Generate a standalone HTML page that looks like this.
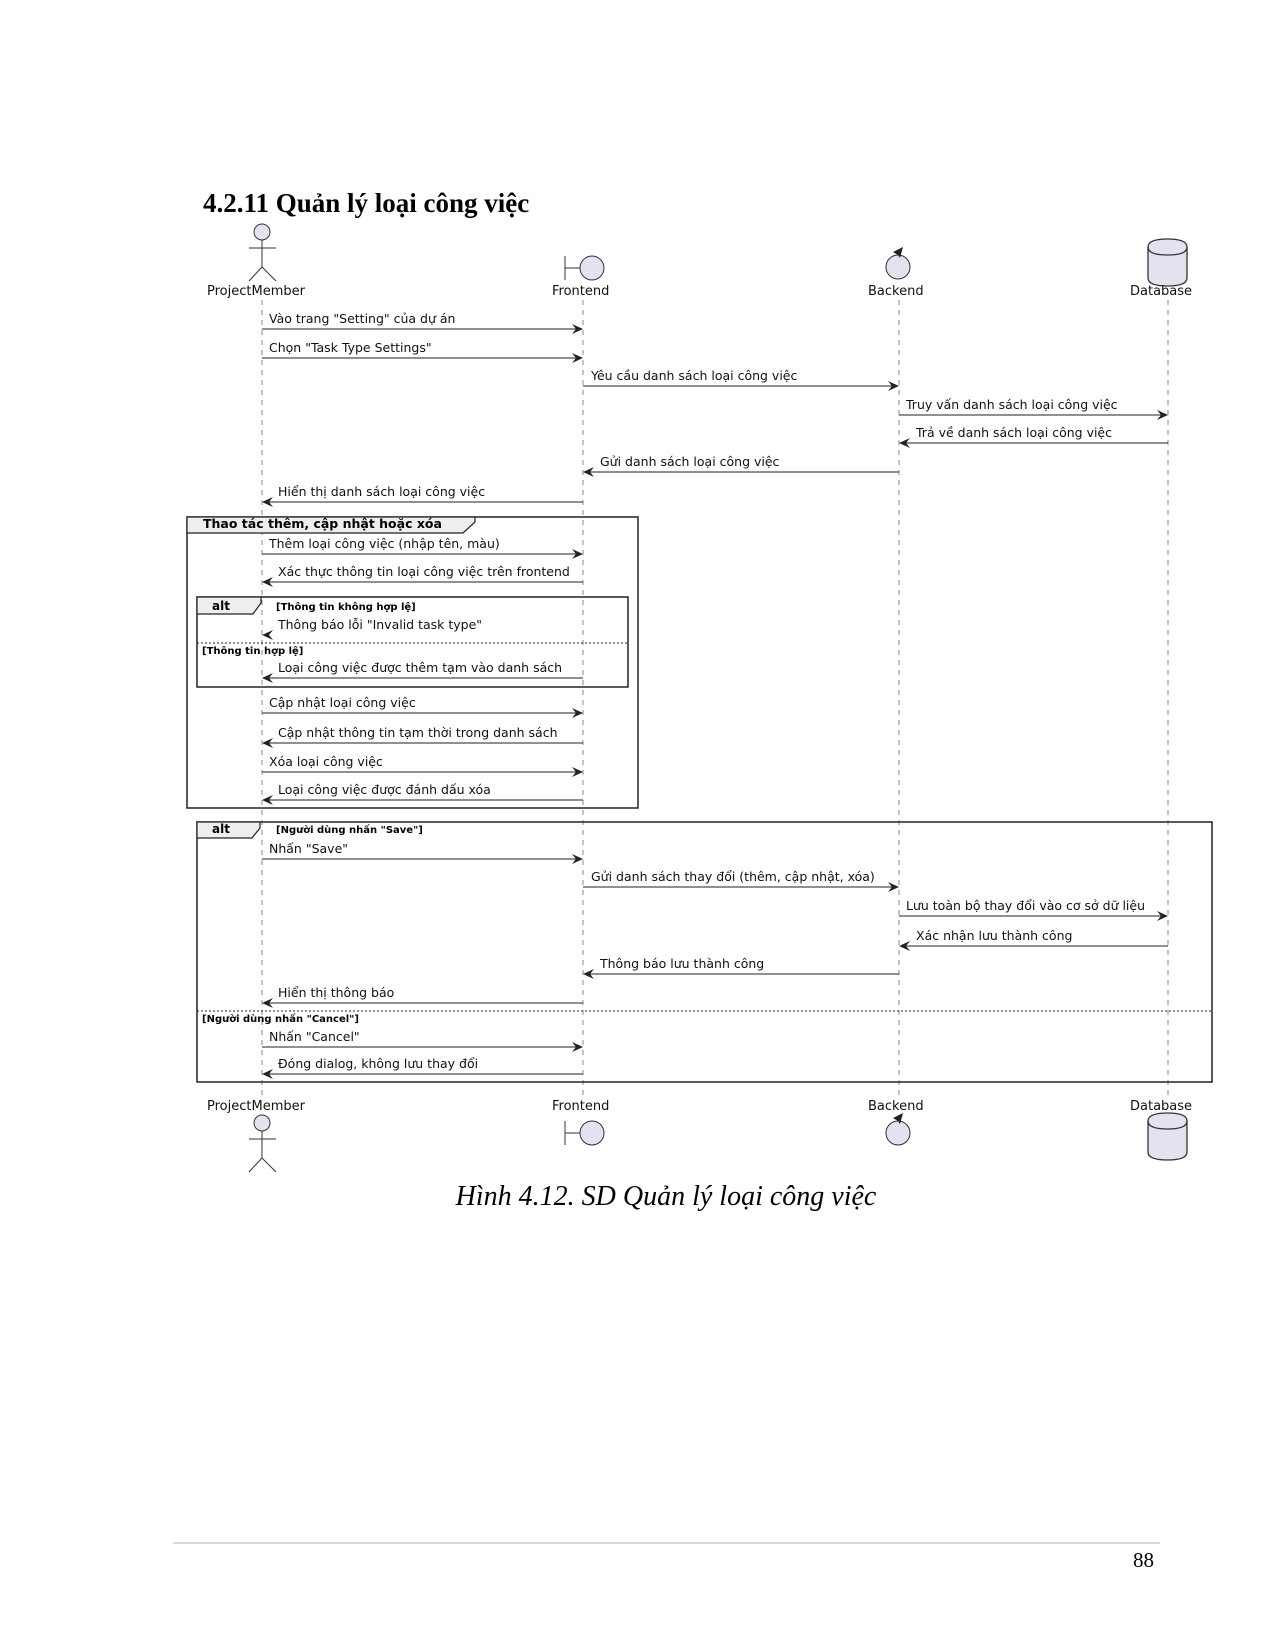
<!DOCTYPE html>
<html><head><meta charset="utf-8"><style>
html,body{margin:0;padding:0;background:#fff;}
svg{display:block;}
.m{font-family:"DejaVu Sans","Liberation Sans",sans-serif;font-size:12.5px;fill:#111;}
.n{font-family:"DejaVu Sans","Liberation Sans",sans-serif;font-size:13px;fill:#111;}
.b{font-family:"DejaVu Sans","Liberation Sans",sans-serif;font-weight:bold;fill:#000;}
.ll{stroke:#888;stroke-width:1;stroke-dasharray:5,5;}
.ar{stroke:#222;stroke-width:1.1;fill:none;}
.h{fill:#222;}
</style></head><body>
<svg width="1275" height="1650" viewBox="0 0 1275 1650" xmlns="http://www.w3.org/2000/svg">
<text x="203" y="212" font-family="Liberation Serif,serif" font-weight="bold" font-size="27" fill="#000">4.2.11 Quản lý loại công việc</text>

<line class="ll" x1="262" y1="300" x2="262" y2="1097"/>
<line class="ll" x1="583" y1="300" x2="583" y2="1097"/>
<line class="ll" x1="899" y1="300" x2="899" y2="1097"/>
<line class="ll" x1="1168" y1="300" x2="1168" y2="1097"/>

<g stroke="#333" stroke-width="1" fill="#e2e2f0">
<circle cx="262" cy="232" r="8"/>
<line x1="262" y1="240" x2="262" y2="267"/>
<line x1="249" y1="248" x2="276" y2="248"/>
<line x1="262" y1="267" x2="249" y2="281" fill="none"/>
<line x1="262" y1="267" x2="276" y2="281" fill="none"/>
<line x1="565" y1="256" x2="565" y2="280"/>
<line x1="565" y1="268" x2="580" y2="268"/>
<circle cx="592" cy="268" r="12"/>
<circle cx="898" cy="267" r="12"/>
<path d="M1148 247 Q1148 239 1167.5 239 Q1187 239 1187 247 L1187 278 Q1187 286 1167.5 286 Q1148 286 1148 278 Z" stroke-width="1.3"/>
<path d="M1148 247 Q1148 255 1167.5 255 Q1187 255 1187 247" fill="none" stroke-width="1.3"/>
</g>
<path d="M898 255 L893 252 L903 247 L900 258 Z" fill="#222"/>
<text class="n" x="207" y="295">ProjectMember</text>
<text class="n" x="552" y="295">Frontend</text>
<text class="n" x="868" y="295">Backend</text>
<text class="n" x="1130" y="295">Database</text>

<text class="n" x="207" y="1110">ProjectMember</text>
<text class="n" x="552" y="1110">Frontend</text>
<text class="n" x="868" y="1110">Backend</text>
<text class="n" x="1130" y="1110">Database</text>
<g stroke="#333" stroke-width="1" fill="#e2e2f0">
<circle cx="262" cy="1123" r="8"/>
<line x1="262" y1="1131" x2="262" y2="1158"/>
<line x1="249" y1="1139" x2="276" y2="1139"/>
<line x1="262" y1="1158" x2="249" y2="1172"/>
<line x1="262" y1="1158" x2="276" y2="1172"/>
<line x1="565" y1="1121" x2="565" y2="1145"/>
<line x1="565" y1="1133" x2="580" y2="1133"/>
<circle cx="592" cy="1133" r="12"/>
<circle cx="898" cy="1133" r="12"/>
<path d="M1148 1121 Q1148 1113 1167.5 1113 Q1187 1113 1187 1121 L1187 1152 Q1187 1160 1167.5 1160 Q1148 1160 1148 1152 Z" stroke-width="1.3"/>
<path d="M1148 1121 Q1148 1129 1167.5 1129 Q1187 1129 1187 1121" fill="none" stroke-width="1.3"/>
</g>
<path d="M898 1121 L893 1118 L903 1113 L900 1124 Z" fill="#222"/>

<rect x="187" y="517" width="451" height="291" fill="none" stroke="#222" stroke-width="1.5"/>
<polygon points="187,517 475,517 475,522 463,533 187,533" fill="#eee" stroke="#222" stroke-width="1.2"/>
<text class="b" x="203" y="528" font-size="12.5">Thao tác thêm, cập nhật hoặc xóa</text>
<rect x="197" y="597" width="431" height="90" fill="none" stroke="#222" stroke-width="1.5"/>
<polygon points="197,597 261,597 261,603 253,614 197,614" fill="#eee" stroke="#222" stroke-width="1.2"/>
<text class="b" x="212" y="610" font-size="12">alt</text>
<text class="b" x="276" y="610" font-size="10">[Thông tin không hợp lệ]</text>
<line x1="197" y1="643" x2="628" y2="643" stroke="#222" stroke-dasharray="2,2"/>
<text class="b" x="202" y="654" font-size="10">[Thông tin hợp lệ]</text>

<rect x="197" y="822" width="1015" height="260" fill="none" stroke="#222" stroke-width="1.5"/>
<polygon points="197,822 260,822 260,828 252,838 197,838" fill="#eee" stroke="#222" stroke-width="1.2"/>
<text class="b" x="212" y="833" font-size="12">alt</text>
<text class="b" x="276" y="833" font-size="10">[Người dùng nhấn "Save"]</text>
<line x1="197" y1="1011" x2="1212" y2="1011" stroke="#222" stroke-dasharray="2,2"/>
<text class="b" x="202" y="1022" font-size="10">[Người dùng nhấn "Cancel"]</text>

<g>
<line class="ar" x1="262" y1="329" x2="582" y2="329"/><path class="h" d="M583 329 L572 324 L576 329 L572 334 Z"/>
<text class="m" x="269" y="323">Vào trang "Setting" của dự án</text>
<line class="ar" x1="262" y1="358" x2="582" y2="358"/><path class="h" d="M583 358 L572 353 L576 358 L572 363 Z"/>
<text class="m" x="269" y="352">Chọn "Task Type Settings"</text>
<line class="ar" x1="583" y1="386" x2="898" y2="386"/><path class="h" d="M899 386 L888 381 L892 386 L888 391 Z"/>
<text class="m" x="591" y="380">Yêu cầu danh sách loại công việc</text>
<line class="ar" x1="899" y1="415" x2="1167" y2="415"/><path class="h" d="M1168 415 L1157 410 L1161 415 L1157 420 Z"/>
<text class="m" x="906" y="409">Truy vấn danh sách loại công việc</text>
<line class="ar" x1="900" y1="443" x2="1168" y2="443"/><path class="h" d="M899 443 L910 438 L906 443 L910 448 Z"/>
<text class="m" x="916" y="437">Trả về danh sách loại công việc</text>
<line class="ar" x1="584" y1="472" x2="899" y2="472"/><path class="h" d="M583 472 L594 467 L590 472 L594 477 Z"/>
<text class="m" x="600" y="466">Gửi danh sách loại công việc</text>
<line class="ar" x1="263" y1="502" x2="583" y2="502"/><path class="h" d="M262 502 L273 497 L269 502 L273 507 Z"/>
<text class="m" x="278" y="496">Hiển thị danh sách loại công việc</text>

<line class="ar" x1="262" y1="554" x2="582" y2="554"/><path class="h" d="M583 554 L572 549 L576 554 L572 559 Z"/>
<text class="m" x="269" y="548">Thêm loại công việc (nhập tên, màu)</text>
<line class="ar" x1="263" y1="582" x2="583" y2="582"/><path class="h" d="M262 582 L273 577 L269 582 L273 587 Z"/>
<text class="m" x="278" y="576">Xác thực thông tin loại công việc trên frontend</text>
<path class="h" d="M262 635 L273 630 L269 635 L273 640 Z"/>
<text class="m" x="278" y="629">Thông báo lỗi "Invalid task type"</text>
<line class="ar" x1="263" y1="678" x2="583" y2="678"/><path class="h" d="M262 678 L273 673 L269 678 L273 683 Z"/>
<text class="m" x="278" y="672">Loại công việc được thêm tạm vào danh sách</text>
<line class="ar" x1="262" y1="713" x2="582" y2="713"/><path class="h" d="M583 713 L572 708 L576 713 L572 718 Z"/>
<text class="m" x="269" y="707">Cập nhật loại công việc</text>
<line class="ar" x1="263" y1="743" x2="583" y2="743"/><path class="h" d="M262 743 L273 738 L269 743 L273 748 Z"/>
<text class="m" x="278" y="737">Cập nhật thông tin tạm thời trong danh sách</text>
<line class="ar" x1="262" y1="772" x2="582" y2="772"/><path class="h" d="M583 772 L572 767 L576 772 L572 777 Z"/>
<text class="m" x="269" y="766">Xóa loại công việc</text>
<line class="ar" x1="263" y1="800" x2="583" y2="800"/><path class="h" d="M262 800 L273 795 L269 800 L273 805 Z"/>
<text class="m" x="278" y="794">Loại công việc được đánh dấu xóa</text>

<line class="ar" x1="262" y1="859" x2="582" y2="859"/><path class="h" d="M583 859 L572 854 L576 859 L572 864 Z"/>
<text class="m" x="269" y="853">Nhấn "Save"</text>
<line class="ar" x1="583" y1="887" x2="898" y2="887"/><path class="h" d="M899 887 L888 882 L892 887 L888 892 Z"/>
<text class="m" x="591" y="881">Gửi danh sách thay đổi (thêm, cập nhật, xóa)</text>
<line class="ar" x1="899" y1="916" x2="1167" y2="916"/><path class="h" d="M1168 916 L1157 911 L1161 916 L1157 921 Z"/>
<text class="m" x="906" y="910">Lưu toàn bộ thay đổi vào cơ sở dữ liệu</text>
<line class="ar" x1="900" y1="946" x2="1168" y2="946"/><path class="h" d="M899 946 L910 941 L906 946 L910 951 Z"/>
<text class="m" x="916" y="940">Xác nhận lưu thành công</text>
<line class="ar" x1="584" y1="974" x2="899" y2="974"/><path class="h" d="M583 974 L594 969 L590 974 L594 979 Z"/>
<text class="m" x="600" y="968">Thông báo lưu thành công</text>
<line class="ar" x1="263" y1="1003" x2="583" y2="1003"/><path class="h" d="M262 1003 L273 998 L269 1003 L273 1008 Z"/>
<text class="m" x="278" y="997">Hiển thị thông báo</text>
<line class="ar" x1="262" y1="1047" x2="582" y2="1047"/><path class="h" d="M583 1047 L572 1042 L576 1047 L572 1052 Z"/>
<text class="m" x="269" y="1041">Nhấn "Cancel"</text>
<line class="ar" x1="263" y1="1074" x2="583" y2="1074"/><path class="h" d="M262 1074 L273 1069 L269 1074 L273 1079 Z"/>
<text class="m" x="278" y="1068">Đóng dialog, không lưu thay đổi</text>
</g>

<text x="666" y="1205" text-anchor="middle" font-family="Liberation Serif,serif" font-style="italic" font-size="28" fill="#000">Hình 4.12. SD Quản lý loại công việc</text>
<line x1="173" y1="1543" x2="1160" y2="1543" stroke="#d8d8d8" stroke-width="2"/>
<text x="1133" y="1567" font-family="Liberation Serif,serif" font-size="21" fill="#000">88</text>
</svg>
</body></html>
